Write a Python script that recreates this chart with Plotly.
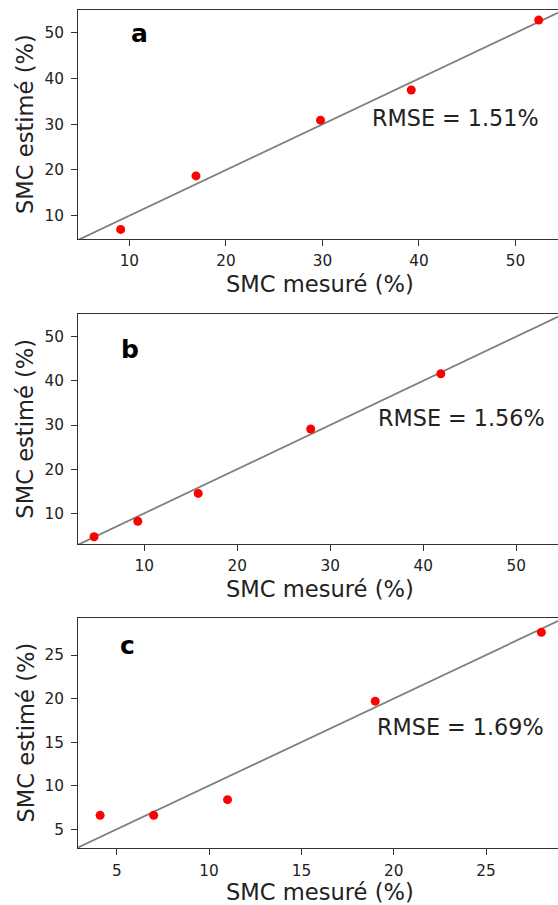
import plotly.graph_objects as go

# ---- data ----
panel_labels = ["a", "b", "c"]
rmse_labels = ["RMSE = 1.51%", "RMSE = 1.56%", "RMSE = 1.69%"]

a_measured = [9.1, 16.9, 29.8, 39.2, 52.4]
a_estimated = [7.0, 18.7, 30.9, 37.5, 52.8]
b_measured = [4.6, 9.3, 15.8, 27.9, 41.9]
b_estimated = [4.7, 8.2, 14.5, 29.1, 41.6]
c_measured = [4.1, 7.0, 11.0, 19.0, 28.0]
c_estimated = [6.6, 6.6, 8.4, 19.7, 27.6]

x_title = "SMC mesuré (%)"
y_title = "SMC estimé (%)"

# ---- layout settings ----
W, H = 558, 905
FONT = "DejaVu Sans"

def px(x):
    return x / W

def py(y):
    return 1 - y / H

panels = [
    dict(mx=a_measured, ey=a_estimated, xr=[4.68, 54.4], yr=[4.9, 55.0], dt=10,
         top=10, bot=239, letter=(129.3, 34.0), rmse=(370.0, 117.6), xt=284.0),
    dict(mx=b_measured, ey=b_estimated, xr=[2.87, 54.5], yr=[3.05, 55.07], dt=10,
         top=314.3, bot=544, letter=(119.3, 349.6), rmse=(376.0, 417.6), xt=589.0),
    dict(mx=c_measured, ey=c_estimated, xr=[2.9, 28.9], yr=[2.82, 29.28], dt=5,
         top=617.7, bot=848.3, letter=(118.3, 645.3), rmse=(374.6, 727.0), xt=892.0),
]

fig = go.Figure()
annotations = []
LEFT = 78

for i, p in enumerate(panels):
    n = "" if i == 0 else str(i + 1)
    xa, ya = "x" + n, "y" + n
    lo = min(p["xr"][0], p["yr"][0]) - 5
    hi = max(p["xr"][1], p["yr"][1]) + 5
    fig.add_trace(go.Scatter(x=[lo, hi], y=[lo, hi], mode="lines",
                             line=dict(color="#808080", width=1.8),
                             xaxis=xa, yaxis=ya, showlegend=False, hoverinfo="skip"))
    fig.add_trace(go.Scatter(x=p["mx"], y=p["ey"], mode="markers",
                             marker=dict(color="#ff0000", size=9),
                             xaxis=xa, yaxis=ya, showlegend=False))
    axis_common = dict(showgrid=False, zeroline=False, showline=True, linecolor="#333333",
                       linewidth=1, ticks="outside", ticklen=6, tickwidth=1, tickcolor="#333333",
                       tickfont=dict(family=FONT, size=15.3, color="#222222"),
                       dtick=p["dt"], tick0=0)
    fig.update_layout(**{
        "xaxis" + n: dict(axis_common, domain=[px(LEFT), 1], range=p["xr"], anchor=ya,
                          mirror=True, ticklabelstandoff=2),
        "yaxis" + n: dict(axis_common, domain=[py(p["bot"]), py(p["top"])], range=p["yr"],
                          anchor=xa, mirror=False, ticklabelstandoff=4),
    })
    annotations.append(dict(text="<b>%s</b>" % panel_labels[i], x=px(p["letter"][0]), y=py(p["letter"][1]),
                            xref="paper", yref="paper", xanchor="left", yanchor="middle",
                            showarrow=False, font=dict(family=FONT, size=25, color="#000000")))
    annotations.append(dict(text=rmse_labels[i], x=px(p["rmse"][0]), y=py(p["rmse"][1]),
                            xref="paper", yref="paper", xanchor="left", yanchor="middle",
                            showarrow=False, font=dict(family=FONT, size=22.3, color="#222222")))
    annotations.append(dict(text=x_title, x=px(320), y=py(p["xt"]),
                            xref="paper", yref="paper", xanchor="center", yanchor="middle",
                            showarrow=False, font=dict(family=FONT, size=22.6, color="#222222")))
    annotations.append(dict(text=y_title, x=px(25.5), y=py((p["top"] + p["bot"]) / 2),
                            xref="paper", yref="paper", xanchor="center", yanchor="middle",
                            textangle=-90, showarrow=False,
                            font=dict(family=FONT, size=22.6, color="#222222")))

fig.update_layout(width=W, height=H, margin=dict(l=0, r=0, t=0, b=0),
                  paper_bgcolor="white", plot_bgcolor="white",
                  annotations=annotations, font=dict(family=FONT))

fig.write_html("out.html", config={"displayModeBar": False},
               post_script="document.body.style.margin='0px';document.body.style.padding='0px';"
                           "document.body.style.overflow='hidden';")
